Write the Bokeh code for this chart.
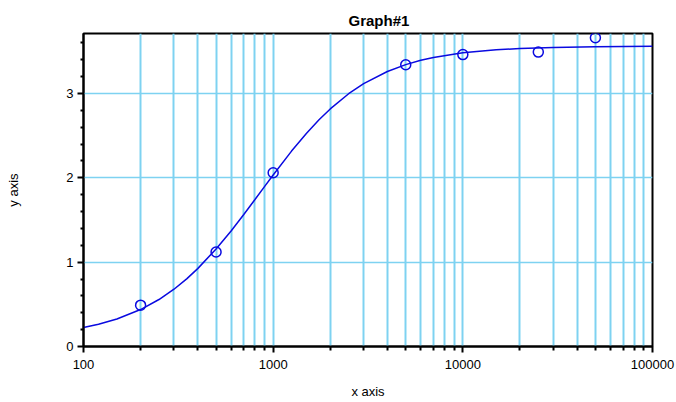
from bokeh.plotting import figure
from bokeh.models import FixedTicker, Range1d, PrintfTickFormatter
from bokeh.embed import file_html
from bokeh.resources import INLINE

# measured data points
x_pts = [200, 500, 1000, 5000, 10000, 25000, 50000]
y_pts = [0.49, 1.12, 2.06, 3.34, 3.46, 3.49, 3.66]

# fitted curve
curve_x = [100, 120, 150, 200, 250, 300, 350, 400, 500, 600, 700, 800, 900, 1000,
           1250, 1500, 1750, 2000, 2500, 3000, 4000, 5000, 6000, 7000, 10000,
           15000, 20000, 30000, 50000, 100000]
curve_y = [0.225, 0.264, 0.326, 0.438, 0.557, 0.679, 0.802, 0.923, 1.156, 1.370, 1.565,
           1.739, 1.895, 2.033, 2.316, 2.528, 2.690, 2.816, 2.996, 3.116, 3.260, 3.341,
           3.392, 3.426, 3.481, 3.517, 3.532, 3.545, 3.553, 3.558]

x_major = [100, 1000, 10000, 100000]
x_minor = [200, 300, 400, 500, 600, 700, 800, 900,
           2000, 3000, 4000, 5000, 6000, 7000, 8000, 9000,
           20000, 30000, 40000, 50000, 60000, 70000, 80000, 90000]
y_major = [0, 1, 2, 3]
y_minor = [0.2, 0.4, 0.6, 0.8, 1.2, 1.4, 1.6, 1.8, 2.2, 2.4, 2.6, 2.8, 3.2, 3.4, 3.6]

FONT = "Liberation Sans"
GRID = "#7ED2F1"
BLUE = "#0A0AE0"

p = figure(width=676, height=402, x_axis_type="log",
           x_range=Range1d(100, 100000), y_range=Range1d(0, 3.71),
           output_backend="svg", toolbar_location=None,
           min_border_left=83, min_border_right=24, min_border_top=33,
           min_border_bottom=56)

p.title.text = "Graph#1"
p.title.text_font = FONT
p.title.text_font_size = "15px"
p.title.text_font_style = "bold"
p.title.text_color = "black"
p.title.align = "left"
p.title.offset = 265
p.title.standoff = 9

p.outline_line_color = "black"
p.outline_line_width = 2
p.outline_line_alpha = 1
p.background_fill_color = "white"
p.border_fill_color = "white"

# axes
p.xaxis.ticker = FixedTicker(ticks=x_major, minor_ticks=x_minor)
p.xaxis.formatter = PrintfTickFormatter(format="%d")
p.yaxis.ticker = FixedTicker(ticks=y_major, minor_ticks=y_minor)
for ax in (p.xaxis, p.yaxis):
    ax.axis_line_color = "black"
    ax.axis_line_width = 2
    ax.major_tick_line_color = "black"
    ax.major_tick_line_width = 2
    ax.minor_tick_line_color = "black"
    ax.minor_tick_line_width = 2
    ax.major_tick_in = 0
    ax.minor_tick_in = 0
    ax.major_label_text_font = FONT
    ax.major_label_text_font_size = "13px"
    ax.major_label_text_color = "black"
    ax.axis_label_text_font = FONT
    ax.axis_label_text_font_size = "13px"
    ax.axis_label_text_font_style = "normal"
    ax.axis_label_text_color = "black"

p.xaxis.major_tick_out = 6
p.xaxis.minor_tick_out = 4
p.yaxis.major_tick_out = 6
p.yaxis.minor_tick_out = 3
p.xaxis.major_label_standoff = 7
p.yaxis.major_label_standoff = 4
p.xaxis.axis_label = "x axis"
p.yaxis.axis_label = "y axis"
p.xaxis.axis_label_standoff = 12
p.yaxis.axis_label_standoff = 42

# grids
p.xgrid.grid_line_color = GRID
p.xgrid.grid_line_width = 2
p.xgrid.minor_grid_line_color = GRID
p.xgrid.minor_grid_line_width = 2
p.ygrid.grid_line_color = GRID
p.ygrid.grid_line_width = 1.5
p.ygrid.minor_grid_line_color = None

# curve and points
p.line(curve_x, curve_y, line_color=BLUE, line_width=1.5)
p.scatter(x_pts, y_pts, marker="circle", size=10, fill_color=None,
          line_color=BLUE, line_width=1.5)

open("out.html", "w").write(file_html(p, INLINE))
